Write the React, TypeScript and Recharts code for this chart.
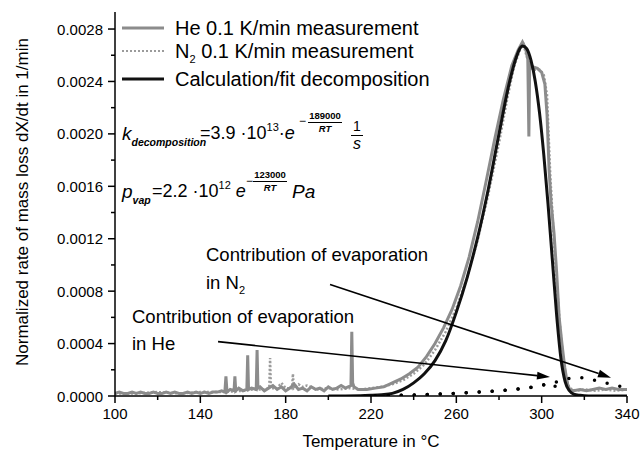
import React from 'react';
import { LineChart, Line, XAxis, YAxis, ReferenceLine } from 'recharts';

// He 0.1 K/min measurement (solid grey)
const heTemp = [
  100, 102, 104, 106, 108, 110, 112, 114, 116, 118, 120, 122, 124, 126, 128, 130, 132, 134, 136, 138, 140, 142, 144, 146, 148, 150,
  151.5, 152, 152.5, 154, 155.8, 156.2, 156.6, 158, 160, 161.8, 162.2, 162.6, 164, 166.2, 166.6, 167, 168, 170, 172, 174, 176, 178,
  180, 182, 184, 186, 188, 190, 192, 194, 196, 198, 200, 202, 204, 206, 208, 210.6, 211, 211.4, 212, 214, 216, 218, 222, 226, 230,
  234, 238, 242, 246, 250, 254, 258, 262, 266, 270, 274, 278, 282, 286, 289, 291, 292.5, 293.5, 294, 294.4, 296, 298, 300, 301.5,
  302.5, 303.5, 304.5, 305.8, 307, 308.2, 309.5, 310.8, 312, 313, 315, 318, 321, 324, 327, 330, 333, 336, 340,
];
const heRate = [
  0.00002, 0.00003, 0.00002, 0.00002, 0.00003, 0.00002, 0.00003, 0.00002, 0.00002, 0.00003, 0.00002, 0.00002, 0.00003, 0.00002,
  0.00003, 0.00002, 0.00002, 0.00003, 0.00002, 0.00003, 0.00002, 0.00003, 0.00002, 0.00003, 0.00003, 0.00004,
  0.00003, 0.00015, 0.00003, 0.00005, 0.00004, 0.00015, 0.00004, 0.00006, 0.00004, 0.00005, 0.00031, 0.00005, 0.00006, 0.00005,
  0.00035, 0.00006, 0.00007, 0.00004, 0.00006, 0.00008, 0.00005, 0.00007,
  0.00004, 0.00006, 0.00009, 0.00005, 0.00006, 0.00004, 0.00007, 0.00005, 0.00006, 0.00004, 0.00007, 0.00005, 0.00006, 0.00008,
  0.00006, 0.00008, 0.00049, 0.0001, 0.00007, 0.00005, 0.00005, 0.00005, 0.00006, 0.00007, 0.0001,
  0.00013, 0.00017, 0.00022, 0.0003, 0.0004, 0.00052, 0.00066, 0.00084, 0.00106, 0.00133, 0.00164, 0.00196, 0.00226, 0.00252, 0.00264,
  0.0027, 0.00265, 0.00257, 0.00198, 0.00254, 0.00251, 0.0025, 0.00247, 0.00238,
  0.00215, 0.00172, 0.00146, 0.00124, 0.00095, 0.0006, 0.0004, 0.00022, 0.0001, 0.00005, 0.00004, 0.00005, 0.00004, 0.00005, 0.00006,
  0.00005, 0.00006, 0.00005, 0.00005,
];

// N2 0.1 K/min measurement (dotted grey)
const n2Temp = [
  100, 110, 120, 130, 140, 150, 160, 165, 170, 172.3, 172.7, 173.1, 176, 178, 180, 183, 183.4, 183.8, 186, 188, 190, 195, 200, 205,
  210, 215, 220, 225, 230, 235, 240, 245, 250, 255, 260, 265, 270, 275, 280, 284, 287, 290, 291.5, 293, 295, 297, 299, 301, 302.5,
  304, 305.5, 307, 308.5, 310, 311.5, 313, 316, 320, 325, 330, 335, 340,
];
const n2Rate = [
  0.00002, 0.00002, 0.00003, 0.00002, 0.00003, 0.00003, 0.00004, 0.00005, 0.00005, 0.00006, 0.00029, 0.00006, 0.00006, 0.0001,
  0.00006, 0.00006, 0.00017, 0.00006, 0.00009, 0.00007, 0.00008, 0.00005, 0.00006, 0.00005,
  0.00006, 0.00005, 0.00006, 0.00007, 0.00009, 0.00012, 0.00017, 0.00024, 0.00035, 0.00049, 0.00067, 0.0009, 0.00119, 0.00154, 0.00193,
  0.00228, 0.00251, 0.00265, 0.00268, 0.00259, 0.0025, 0.00249, 0.00249, 0.00245, 0.0023,
  0.0017, 0.00125, 0.00088, 0.00055, 0.0003, 0.00014, 0.00006, 0.00004, 0.00005, 0.00004, 0.00005, 0.00004, 0.00005,
];

// Calculation / fit decomposition (black)
const fitTemp = [200, 215, 220, 225, 230, 235, 240, 245, 250, 255, 260, 265, 270, 275, 280, 285, 288, 291, 293, 295, 297, 299, 301, 303, 305, 307, 309, 311, 313, 315, 318, 322, 340];
const fitRate = [0, 0.000002, 0.000005, 0.00001, 0.00002, 0.00005, 0.0001, 0.00017, 0.00027, 0.00042, 0.00064, 0.0009, 0.00121, 0.00158, 0.002, 0.0024, 0.00258, 0.00267, 0.00265, 0.00256, 0.0024, 0.00216, 0.00184, 0.00146, 0.00104, 0.00062, 0.00029, 0.00011, 0.00004, 0.000015, 0.000005, 0, 0];

// evaporation contributions (black dots)
const evapHeTemp = [222, 230, 240, 250, 260, 270, 280, 290, 296, 300, 304, 307];
const evapHeRate = [0, 0.000004, 0.000008, 0.000014, 0.00002, 0.00003, 0.00004, 0.000055, 0.000068, 0.00008, 0.0001, 0.00006];
const evapN2Temp = [222, 230, 240, 250, 260, 270, 280, 290, 300, 310, 315, 320, 325, 330, 335, 340];
const evapN2Rate = [0, 0.000004, 0.000008, 0.000014, 0.00002, 0.00003, 0.00004, 0.000055, 0.00008, 0.00012, 0.00014, 0.00014, 0.00012, 0.0001, 0.00008, 0.00006];

const xTicks = [100, 120, 140, 160, 180, 200, 220, 240, 260, 280, 300, 320, 340];
const xMajor = [100, 140, 180, 220, 260, 300, 340];
const yTicks = [0, 0.0002, 0.0004, 0.0006, 0.0008, 0.001, 0.0012, 0.0014, 0.0016, 0.0018, 0.002, 0.0022, 0.0024, 0.0026, 0.0028];
const yMajor = [0, 0.0004, 0.0008, 0.0012, 0.0016, 0.002, 0.0024, 0.0028];

const zip = (ts: number[], vs: number[]) => ts.map((t, i) => ({ t, v: vs[i] }));
const heData = zip(heTemp, heRate);
const n2Data = zip(n2Temp, n2Rate);
const fitData = zip(fitTemp, fitRate);
const evapHeData = zip(evapHeTemp, evapHeRate);
const evapN2Data = zip(evapN2Temp, evapN2Rate);

const FONT = '"Liberation Sans", Arial, sans-serif';

const XTick = (p: any) => {
    const { x, y, payload } = p;
    const major = xMajor.includes(payload.value);
    return (
        <g>
            <line x1={x} x2={x} y1={y} y2={y + (major ? 7 : 4)} stroke="#000" strokeWidth={1.5} />
            {major && (
                <text x={x} y={y + 17} textAnchor="middle" dominantBaseline="central" fontSize={15} fontFamily={FONT} fill="#000">
                    {payload.value}
                </text>
            )}
        </g>
    );
};

const YTick = (p: any) => {
    const { x, y, payload } = p;
    const major = yMajor.some((m) => Math.abs(m - payload.value) < 1e-9);
    return (
        <g>
            <line x1={x - (major ? 7 : 4)} x2={x} y1={y} y2={y} stroke="#000" strokeWidth={1.5} />
            {major && (
                <text x={x - 12} y={y} textAnchor="end" dominantBaseline="central" fontSize={15} fontFamily={FONT} fill="#000">
                    {payload.value.toFixed(4)}
                </text>
            )}
        </g>
    );
};

const Arrow = (p: any) => {
    const { x1, y1, x2, y2 } = p;
    const a = Math.atan2(y2 - y1, x2 - x1);
    const len = 13;
    const w = 4;
    const bx = x2 - len * Math.cos(a);
    const by = y2 - len * Math.sin(a);
    const pts = `${x2},${y2} ${bx + w * Math.sin(a)},${by - w * Math.cos(a)} ${bx - w * Math.sin(a)},${by + w * Math.cos(a)}`;
    return (
        <g>
            <line x1={x1} y1={y1} x2={bx} y2={by} stroke="#000" strokeWidth={1.6} />
            <polygon points={pts} fill="#000" />
        </g>
    );
};

// small absolutely positioned text piece, y = visual centre
const T = ({ x, y, size, italic, bold, anchor, children }: any) => (
    <div
        style={{
            position: 'absolute',
            left: x,
            top: y,
            transform: `translate(${anchor === 'middle' ? '-50%' : '0'}, -50%)`,
            fontSize: size,
            fontStyle: italic ? 'italic' : 'normal',
            fontWeight: bold ? 'bold' : 'normal',
            lineHeight: 1,
            whiteSpace: 'nowrap',
        }}
    >
        {children}
    </div>
);

const sup = { fontSize: 11, verticalAlign: 8, lineHeight: 0 } as const;
const sub = { fontSize: 11, verticalAlign: -5, lineHeight: 0 } as const;

const LegendRow = ({ y, dash, color, width, children }: any) => (
    <>
        <svg style={{ position: 'absolute', left: 120, top: y - 5 }} width={46} height={10}>
            <line x1={2} x2={44} y1={5} y2={5} stroke={color} strokeWidth={width} strokeDasharray={dash} />
        </svg>
        <T x={175} y={y} size={20}>{children}</T>
    </>
);

export default function App() {
    return (
        <div style={{ position: 'absolute', left: 0, top: 0, width: 642, height: 451, background: '#fff', fontFamily: FONT, color: '#000' }}>
            <LineChart width={642} height={451} data={fitData} margin={{ top: 12, right: 15, bottom: 0, left: 0 }}>
                <XAxis
                    dataKey="t"
                    type="number"
                    domain={[100, 340]}
                    ticks={xTicks}
                    interval={0}
                    allowDataOverflow
                    height={55}
                    tickSize={0}
                    tickMargin={0}
                    tickLine={false}
                    axisLine={{ stroke: '#000', strokeWidth: 1.5 }}
                    tick={<XTick />}
                />
                <XAxis xAxisId="top" orientation="top" type="number" domain={[100, 340]} height={0} tick={false} tickLine={false} axisLine={{ stroke: '#000', strokeWidth: 1.5 }} />
                <YAxis
                    type="number"
                    domain={[0, 0.00293]}
                    ticks={yTicks}
                    interval={0}
                    allowDataOverflow
                    width={115}
                    tickSize={0}
                    tickMargin={0}
                    tickLine={false}
                    axisLine={{ stroke: '#000', strokeWidth: 1.5 }}
                    tick={<YTick />}
                />
                <YAxis yAxisId="right" orientation="right" type="number" domain={[0, 0.00293]} width={0} tick={false} tickLine={false} axisLine={{ stroke: '#000', strokeWidth: 1.5 }} />

                <Line data={n2Data} dataKey="v" type="linear" stroke="#9b9b9b" strokeWidth={2.5} strokeDasharray="2 2" dot={false} isAnimationActive={false} />
                <Line data={heData} dataKey="v" type="linear" stroke="#8c8c8c" strokeWidth={3} dot={false} isAnimationActive={false} />
                <Line data={fitData} dataKey="v" type="monotone" stroke="#111" strokeWidth={3} dot={false} isAnimationActive={false} />
                <Line data={evapN2Data} dataKey="v" type="monotone" stroke="#000" strokeWidth={3.5} strokeDasharray="0 13" strokeLinecap="round" dot={false} isAnimationActive={false} />
                <Line data={evapHeData} dataKey="v" type="monotone" stroke="#000" strokeWidth={3.5} strokeDasharray="0 13" strokeLinecap="round" dot={false} isAnimationActive={false} />

                <ReferenceLine segment={[{ x: 148.3, y: 0.000415 }, { x: 303.9, y: 0.000145 }]} ifOverflow="visible" shape={<Arrow />} />
                <ReferenceLine segment={[{ x: 200.8, y: 0.00085 }, { x: 332.5, y: 0.00014 }]} ifOverflow="visible" shape={<Arrow />} />
            </LineChart>

            <div style={{ position: 'absolute', left: 0, top: 0, width: 642, height: 451, pointerEvents: 'none' }}>
                {/* axis titles */}
                <div style={{ position: 'absolute', left: 22, top: 202, transform: 'translate(-50%, -50%) rotate(-90deg)', fontSize: 17, whiteSpace: 'nowrap', lineHeight: 1 }}>
                    Normalized rate of mass loss dX/dt in 1/min
                </div>
                <T x={371} y={441} size={17} anchor="middle">Temperature in °C</T>

                {/* legend */}
                <LegendRow y={28} color="#8c8c8c" width={3}>He 0.1 K/min measurement</LegendRow>
                <LegendRow y={51} color="#9b9b9b" width={2} dash="2 2">
                    N<span style={sub}>2</span> 0.1 K/min measurement
                </LegendRow>
                <LegendRow y={79} color="#111" width={3}>Calculation/fit decomposition</LegendRow>

                {/* decomposition rate */}
                <T x={122} y={133} size={19} italic>
                    k<span style={{ fontSize: 10.5, fontWeight: 'bold', verticalAlign: -6, lineHeight: 0 }}>decomposition</span>
                </T>
                <T x={200} y={133} size={18}>
                    =3.9 ·10<span style={sup}>13</span>·<i>e</i>
                </T>
                <T x={299} y={121} size={12}>−</T>
                <T x={325} y={116} size={9.5} bold anchor="middle">189000</T>
                <div style={{ position: 'absolute', left: 308, top: 122, width: 34, height: 1, background: '#000' }} />
                <T x={325} y={129} size={9.5} bold italic anchor="middle">RT</T>
                <T x={357} y={126} size={14} anchor="middle">1</T>
                <div style={{ position: 'absolute', left: 351, top: 135, width: 12, height: 1.2, background: '#000' }} />
                <T x={357} y={144} size={16} italic anchor="middle">s</T>

                {/* vapour pressure */}
                <T x={122} y={191} size={19} italic>
                    p<span style={{ fontSize: 10.5, fontWeight: 'bold', verticalAlign: -6, lineHeight: 0 }}>vap</span>
                </T>
                <T x={152} y={191} size={18}>
                    =2.2 ·10<span style={sup}>12</span> <i>e</i>
                </T>
                <T x={246} y={181} size={12}>−</T>
                <T x={270} y={175} size={9.5} bold anchor="middle">123000</T>
                <div style={{ position: 'absolute', left: 253, top: 181, width: 34, height: 1, background: '#000' }} />
                <T x={270} y={188} size={9.5} bold italic anchor="middle">RT</T>
                <T x={292} y={191} size={19} italic>Pa</T>

                {/* annotations */}
                <T x={206} y={255} size={18.5}>Contribution of evaporation</T>
                <T x={206} y={283} size={18.5}>
                    in N<span style={sub}>2</span>
                </T>
                <T x={132} y={317} size={18.5}>Contribution of evaporation</T>
                <T x={132} y={344} size={18.5}>in He</T>
            </div>
        </div>
    );
}
